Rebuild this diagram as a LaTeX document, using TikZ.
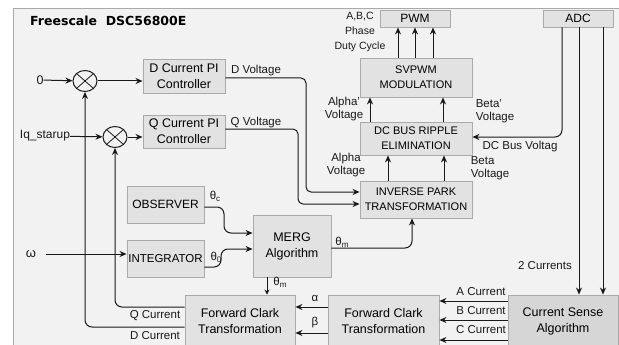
\documentclass[tikz,border=0pt]{standalone}
\usepackage{fontspec}
\setmainfont{Liberation Sans}
\newfontfamily\titlefont{DejaVu Sans}
\usetikzlibrary{arrows.meta,shapes.geometric}
\definecolor{panel}{RGB}{242,242,242}
\definecolor{blockfill}{RGB}{226,226,226}
\definecolor{blockline}{RGB}{170,170,170}
\definecolor{sensefill}{RGB}{214,214,214}
\definecolor{wire}{RGB}{25,25,25}
\tikzset{
  >={Stealth[length=7pt,width=6pt]},
  block/.style={draw=blockline,fill=#1,line width=0.9pt,align=center,inner sep=1pt,
    font=\fontsize{12.5}{16}\selectfont},
  block/.default=blockfill,
  capsblock/.style={block,font=\fontsize{11}{15}\selectfont},
  flow/.style={->,line width=1pt,draw=wire,rounded corners=5pt},
  shortflow/.style={->,line width=0.9pt,draw=wire,>={Stealth[length=5pt,width=5pt]}},
  sumjoint/.style={ellipse,draw=wire,line width=1pt,fill=panel,minimum width=24pt,
    minimum height=21pt,inner sep=0pt},
  tag/.style={font=\fontsize{11.5}{13}\selectfont,align=center,inner sep=0pt,text=wire},
}
\newcommand{\lowidx}[1]{\raisebox{-2pt}{\fontsize{8}{8}\selectfont #1}}

\begin{document}
\begin{tikzpicture}[x=1pt,y=-1pt]
  \useasboundingbox (0,0) rectangle (619,345);
  \fill[white] (0,0) rectangle (619,345);
  \fill[panel] (13,8) rectangle (619,345);
  \draw[blockline,line width=0.9pt] (13,345) -- (13,8) -- (619,8);
  \node[anchor=west,inner sep=0pt,font=\titlefont\bfseries\fontsize{12.5}{14}\selectfont] (title) at (30,21) {Freescale\ \ DSC56800E};

  % blocks
  \node[block,minimum width=82pt,minimum height=34pt] (dpi) at (184,76) {D Current PI\\Controller};
  \node[block,minimum width=82pt,minimum height=33pt] (qpi) at (184,131.5) {Q Current PI\\Controller};
  \node[block,minimum width=77pt,minimum height=37pt,font=\fontsize{12}{15}\selectfont] (obs) at (165.5,204.5) {OBSERVER};
  \node[block,minimum width=77pt,minimum height=37pt,font=\fontsize{11.5}{15}\selectfont] (integ) at (165.5,258.5) {INTEGRATOR};
  \node[block,minimum width=78pt,minimum height=62pt] (merg) at (292,246) {MERG\\Algorithm};
  \node[capsblock,minimum width=112pt,minimum height=37pt] (ipark) at (416,199.5) {INVERSE PARK\\TRANSFORMATION};
  \node[capsblock,minimum width=112pt,minimum height=33pt] (dcbus) at (416,138.5) {DC BUS RIPPLE\\ELIMINATION};
  \node[capsblock,minimum width=112pt,minimum height=39pt] (svpwm) at (416,77.5) {SVPWM\\MODULATION};
  \node[block,minimum width=70pt,minimum height=17pt,font=\fontsize{12}{14}\selectfont] (pwm) at (415,18.5) {PWM};
  \node[block,minimum width=70pt,minimum height=17pt,font=\fontsize{12}{14}\selectfont] (adc) at (578,18.5) {ADC};
  \node[block,minimum width=110pt,minimum height=52pt] (clark1) at (240,321) {Forward Clark\\Transformation};
  \node[block,minimum width=111pt,minimum height=52pt] (clark2) at (383.5,321) {Forward Clark\\Transformation};
  \node[block=sensefill,minimum width=110pt,minimum height=52pt] (cs) at (563,321) {Current Sense\\Algorithm};

  % summing junctions
  \node[sumjoint] (sum1) at (85,81) {};
  \node[sumjoint] (sum2) at (115,137) {};
  \foreach \s in {sum1,sum2}
    \draw[wire,line width=0.8pt] (\s.north west) -- (\s.south east) (\s.north east) -- (\s.south west);

  % inputs
  \node[tag,font=\fontsize{12.5}{14}\selectfont] (zero) at (40,80) {0};
  \node[tag,font=\fontsize{12}{14}\selectfont] (iq) at (45,136) {Iq\_starup};
  \node[tag,font=\fontsize{13}{14}\selectfont] (omega) at (31,254) {ω};
  \draw[flow] (zero) -- (sum1);
  \draw[flow] (iq) -- (sum2);
  \draw[flow] ([xshift=10pt]omega.east) -- (omega -| integ.west);
  \draw[flow] (sum1) -- (sum1 -| dpi.west);
  \draw[flow] (sum2) -- (sum2 -| qpi.west);

  % voltages into the park block
  \draw[flow] (dpi.east |- 0,78) -- (306,78) -- (306,192) -- (ipark.west |- 0,192);
  \draw[flow] (qpi.east |- 0,129) -- (298,129) -- (298,204) -- (ipark.west |- 0,204);
  \node[tag] (dv) at (256,71) {D Voltage};
  \node[tag] (qv) at (256,123) {Q Voltage};

  % angle paths
  \draw[flow,rounded corners=7pt] (obs.east |- 0,207) -- (224,207) -- (224,233) -- (merg.west |- 0,233);
  \draw[flow,rounded corners=7pt] (integ.east |- 0,267) -- (221,267) -- (221,249) -- (merg.west |- 0,249);
  \draw[flow,rounded corners=7pt] (merg.east |- 0,248) -| ([xshift=-4pt]ipark.south);
  \draw[shortflow] (merg.south -| 267,0) -- (clark1.north -| 267,0);
  \node[tag] (thc) at (215,196) {θ\lowidx{c}};
  \node[tag] (tho) at (216,257) {θ\lowidx{0}};
  \node[tag] (thm1) at (342,242) {θ\lowidx{m}};
  \node[tag] (thm2) at (280,282) {θ\lowidx{m}};

  % upper chain
  \foreach \x in {388,444}
    \draw[flow] (ipark.north -| \x,0) -- (dcbus.south -| \x,0);
  \foreach \x in {370,443}
    \draw[flow] (dcbus.north -| \x,0) -- (svpwm.south -| \x,0);
  \foreach \x in {398,415,433}
    \draw[flow] (svpwm.north -| \x,0) -- (pwm.south -| \x,0);
  \node[tag,font=\fontsize{10.5}{15}\selectfont] (duty) at (360,32) {A,B,C\\Phase\\Duty Cycle};
  \node[tag] (alv1) at (344,109) {Alpha'\\Voltage};
  \node[tag,align=left] (btv1) at (495,111) {Beta'\\Voltage};
  \node[tag] (alv2) at (346,165) {Alpha\\Voltage};
  \node[tag,align=left] (btv2) at (490,168) {Beta\\Voltage};

  % ADC lines
  \draw[flow,rounded corners=7pt] (adc.south -| 562,0) |- (dcbus.east |- 0,137);
  \foreach \x in {579,603}
    \draw[flow] (adc.south -| \x,0) -- (cs.north -| \x,0);
  \node[tag] (dcv) at (520,147) {DC Bus Voltag};
  \node[tag] (two) at (545,266) {2 Currents};

  % currents
  \foreach \y in {301,320,340}
    \draw[flow] (cs.west |- 0,\y) -- (clark2.east |- 0,\y);
  \node[tag] (ac) at (481,292) {A Current};
  \node[tag] (bc) at (481,311) {B Current};
  \node[tag] (cc) at (481,330) {C Current};
  \foreach \y in {307,333}
    \draw[flow] (clark2.west |- 0,\y) -- (clark1.east |- 0,\y);
  \node[tag] (al) at (315,298) {α};
  \node[tag] (bt) at (315,323) {β};

  % feedback
  \draw[flow,rounded corners=7pt] (clark1.west |- 0,307) -| (sum2.south);
  \draw[flow,rounded corners=7pt] (clark1.west |- 0,327) -| (sum1.south);
  \node[tag] (qc) at (155,316) {Q Current};
  \node[tag] (dc) at (155,336) {D Current};
\end{tikzpicture}
\end{document}
